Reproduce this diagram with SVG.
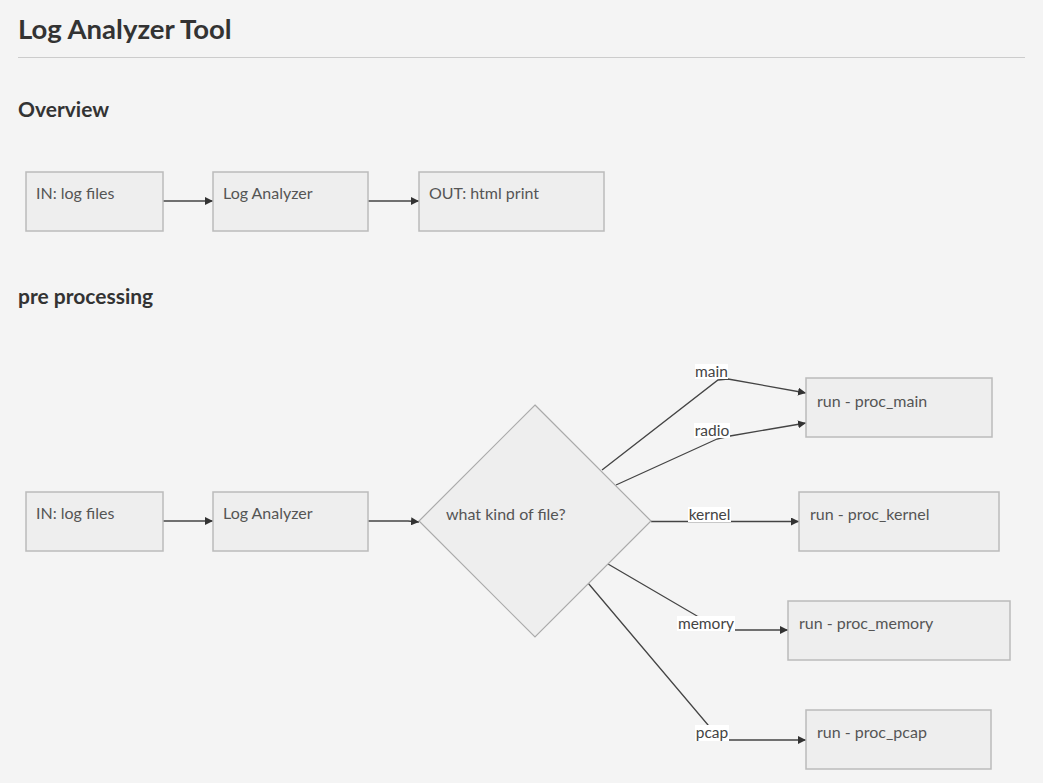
<svg xmlns="http://www.w3.org/2000/svg" width="1043" height="783" viewBox="0 0 1043 783">
<style>
text{font-family:Lato,"Open Sans","Liberation Sans",sans-serif}
.h1{font-size:27.5px;font-weight:bold;fill:#333}
.h2{font-size:21px;font-weight:bold;fill:#333}
.box{fill:#eeeeee;stroke:#bbbbbb;stroke-width:1.5}
.t{font-size:16px;fill:#555}
.e{fill:none;stroke:#444;stroke-width:1.3}
.lb{fill:#ffffff}
.l{font-size:15.5px;fill:#444;text-anchor:middle}
</style>
<defs>
<marker id="ah" viewBox="0 0 10 10" refX="10" refY="5" markerWidth="8" markerHeight="8" markerUnits="userSpaceOnUse" orient="auto">
<path d="M0,0 L10,5 L0,10 z" fill="#333"/>
</marker>
</defs>
<rect width="1043" height="783" fill="#f4f4f4"/>
<text class="h1" x="18" y="39">Log Analyzer Tool</text>
<line x1="18" y1="57.5" x2="1025" y2="57.5" stroke="#cccccc" stroke-width="1"/>
<text class="h2" x="18" y="117">Overview</text>
<text class="h2" x="18" y="304">pre processing</text>

<g id="connectors">
<line class="e" x1="163" y1="201" x2="213" y2="201" marker-end="url(#ah)"/>
<line class="e" x1="368" y1="201" x2="419" y2="201" marker-end="url(#ah)"/>
<line class="e" x1="163" y1="521" x2="213" y2="521" marker-end="url(#ah)"/>
<path class="e" d="M368,521 L408,521 L419,522" marker-end="url(#ah)"/>
<polyline class="e" points="602,470 718,380 728,379 806,393" marker-end="url(#ah)"/>
<polyline class="e" points="616,485 717,439 730,436 806,423" marker-end="url(#ah)"/>
<line class="e" x1="651" y1="521.5" x2="799" y2="521.5" marker-end="url(#ah)"/>
<polyline class="e" points="608,564 697,616 735,630 788,630" marker-end="url(#ah)"/>
<polyline class="e" points="588,583 708,725 729,740 806,740" marker-end="url(#ah)"/>
<g id="edge-labels">
<rect class="lb" x="695" y="364" width="33" height="15"/>
<text class="l" x="711.5" y="377">main</text>
<rect class="lb" x="694" y="423" width="36" height="15"/>
<text class="l" x="712" y="436">radio</text>
<rect class="lb" x="688" y="507" width="43" height="15"/>
<text class="l" x="709.5" y="520">kernel</text>
<rect class="lb" x="677" y="616" width="58" height="15"/>
<text class="l" x="706" y="629">memory</text>
<rect class="lb" x="695" y="725" width="34" height="16"/>
<text class="l" x="712" y="738">pcap</text>
</g>
</g>

<g id="ov-in"><rect class="box" x="26" y="172" width="137" height="59"/><text class="t" x="36" y="199">IN: log files</text></g>
<g id="ov-la"><rect class="box" x="213" y="172" width="155" height="59"/><text class="t" x="223" y="199">Log Analyzer</text></g>
<g id="ov-out"><rect class="box" x="419" y="172" width="185" height="59"/><text class="t" x="429" y="199">OUT: html print</text></g>

<g id="pp-in"><rect class="box" x="26" y="492" width="137" height="59"/><text class="t" x="36" y="519">IN: log files</text></g>
<g id="pp-la"><rect class="box" x="213" y="492" width="155" height="59"/><text class="t" x="223" y="519">Log Analyzer</text></g>
<g id="pp-q"><polygon points="535,405 651,521 535,637 419,521" fill="#eeeeee" stroke="#aaaaaa" stroke-width="1.2"/><text class="t" x="446" y="520">what kind of file?</text></g>
<g id="proc-main"><rect class="box" x="806" y="378" width="186" height="59"/><text class="t" x="817" y="407">run - proc_main</text></g>
<g id="proc-kernel"><rect class="box" x="799" y="492" width="200" height="59"/><text class="t" x="810" y="520">run - proc_kernel</text></g>
<g id="proc-memory"><rect class="box" x="788" y="601" width="222" height="59"/><text class="t" x="799" y="629">run - proc_memory</text></g>
<g id="proc-pcap"><rect class="box" x="806" y="710" width="185" height="59"/><text class="t" x="817" y="738">run - proc_pcap</text></g>
</svg>
